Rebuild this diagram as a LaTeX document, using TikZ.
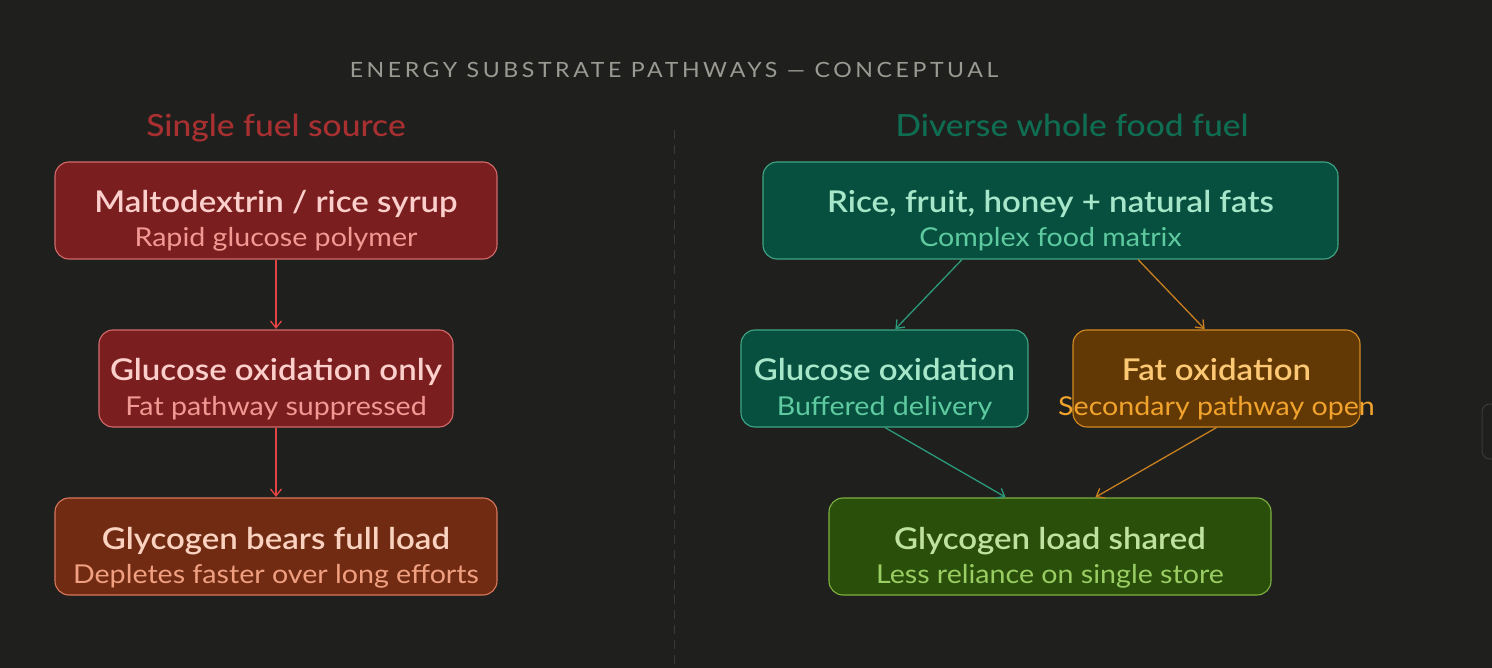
\documentclass[tikz,border=0pt]{standalone}
\usepackage{fontspec}
\setmainfont{Lato}[FakeStretch=1.1, BoldFont={Lato Semibold}]
\newfontfamily\capsfont[LetterSpace=17, FakeStretch=1.1]{Lato}
\newfontfamily\headfont[FakeStretch=1.1]{Lato Medium}
\usetikzlibrary{arrows.meta,calc}
\definecolor{bg}{HTML}{1F1F1E}
\definecolor{titlegray}{HTML}{9B9A92}
\definecolor{divider}{HTML}{3A3A38}
\definecolor{hdred}{HTML}{A83030}
\definecolor{hdgreen}{HTML}{0F6E52}
\definecolor{redfill}{HTML}{7A1E1F}\definecolor{redline}{HTML}{D46A6A}\definecolor{redtitle}{HTML}{FBCFCB}\definecolor{redsub}{HTML}{F19A94}
\definecolor{brfill}{HTML}{712B13}\definecolor{brline}{HTML}{D9775A}\definecolor{brtitle}{HTML}{F9D2C0}\definecolor{brsub}{HTML}{F0A080}
\definecolor{tlfill}{HTML}{07503F}\definecolor{tlline}{HTML}{3FA585}\definecolor{tltitle}{HTML}{A6E6C9}\definecolor{tlsub}{HTML}{5ECAA0}
\definecolor{orfill}{HTML}{623905}\definecolor{orline}{HTML}{D48A22}\definecolor{ortitle}{HTML}{FCC874}\definecolor{orsub}{HTML}{F2A32C}
\definecolor{grfill}{HTML}{294F0B}\definecolor{grline}{HTML}{7FB040}\definecolor{grtitle}{HTML}{C0E2A0}\definecolor{grsub}{HTML}{9ACD62}
\definecolor{arred}{HTML}{E04444}\definecolor{arteal}{HTML}{2A9A7A}\definecolor{arorange}{HTML}{C8801E}
\tikzset{
  stagebox/.style={draw=#1line, fill=#1fill, line width=1.1pt, rounded corners=14pt, inner sep=0pt, minimum height=97pt},
  stagetitle/.style={anchor=base, inner sep=0pt, text=#1title, font=\bfseries\fontsize{30}{34}\selectfont},
  stagesub/.style={anchor=base, inner sep=0pt, text=#1sub, font=\fontsize{26}{30}\selectfont},
  flow/.style={line width=1.3pt, -{Straight Barb[length=7pt,width=11pt,line width=1.3pt]}, shorten >=0.5pt},
  header/.style={inner sep=0pt, font=\headfont\fontsize{30.5}{34}\selectfont, anchor=base}
}
\newcommand\stage[7]{% name, x, y, width, palette, title, sub
  \node[stagebox=#5, minimum width=#4pt] (#1) at (#2,#3) {};
  \node[stagetitle=#5] (#1-t) at ($(#1.center)+(0,2.5)$) {#6};
  \node[stagesub=#5] (#1-s) at ($(#1.center)+(0,36.5)$) {#7};
}
\begin{document}
\begin{tikzpicture}[x=1pt,y=-1pt]
\fill[bg] (0,0) rectangle (1492,668);
\useasboundingbox (0,0) rectangle (1492,668);
\node[inner sep=0pt, anchor=base, text=titlegray, font=\capsfont\fontsize{21}{24}\selectfont] (title) at (674,78) {ENERGY SUBSTRATE PATHWAYS — CONCEPTUAL};
\node[header, text=hdred] (hleft) at (276,136.5) {Single fuel source};
\node[header, text=hdgreen] (hright) at (1072,136.5) {Diverse whole food fuel};
\coordinate (divtop) at (674,130);
\coordinate (divbot) at (674,668);
\draw[divider, line width=1pt, dash pattern=on 9pt off 6pt] (divtop) -- (divbot);
% left column
\stage{l1}{276}{210.5}{442}{red}{Maltodextrin / rice syrup}{Rapid glucose polymer}
\stage{l2}{276}{378.5}{354}{red}{Glucose oxidation only}{Fat pathway suppressed}
\stage{l3}{276}{546.5}{442}{br}{Glycogen bears full load}{Depletes faster over long efforts}
\draw[flow, arred] (l1.south) -- (l2.north);
\draw[flow, arred] (l2.south) -- (l3.north);
% right column
\stage{r1}{1050.5}{210.5}{575}{tl}{Rice, fruit, honey + natural fats}{Complex food matrix}
\stage{r2}{884.5}{378.5}{287}{tl}{Glucose oxidation}{Buffered delivery}
\stage{r3}{1216.5}{378.5}{287}{or}{Fat oxidation}{Secondary pathway open}
\stage{r4}{1050}{546.5}{442}{gr}{Glycogen load shared}{Less reliance on single store}
\draw[flow, arteal] ($(r1.south)+(-88.5,0)$) -- ($(r2.north)+(10.5,0)$);
\draw[flow, arorange] ($(r1.south)+(87.5,0)$) -- ($(r3.north)+(-11.5,0)$);
\draw[flow, arteal] ($(r2.south)+(0.5,0)$) -- ($(r4.north)+(-44,0)$);
\draw[flow, arorange] ($(r3.south)+(0,0)$) -- ($(r4.north)+(45,0)$);
% partial panel at right edge
\draw[divider, line width=1pt, rounded corners=8pt] (1510,404) -- (1482,404) -- (1482,459) -- (1510,459);
\end{tikzpicture}
\end{document}
